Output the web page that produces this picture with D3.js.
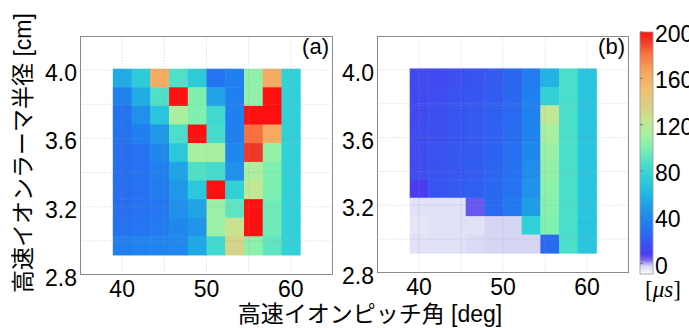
<!DOCTYPE html>
<html>
<head>
<meta charset="utf-8">
<script src="https://cdn.jsdelivr.net/npm/d3@7"></script>
<style>
  body { margin: 0; background: #fff; }
  svg { display: block; }
</style>
</head>
<body>
<div id="chart"></div>
<script>
// cell centres
const pitchCenters = [40, 42.22, 44.44, 46.67, 48.89, 51.11, 53.33, 55.56, 57.78, 60];
const radiusCenters = [3.954, 3.845, 3.736, 3.627, 3.518, 3.408, 3.299, 3.190, 3.081, 2.972]; // top row first

// (a) values [us], rows top -> bottom
const valuesA = [
  [55, 72, 162, 88, 72, 30, 36, 105, 162, 76],
  [36, 56, 88, 200, 100, 52, 36, 105, 200, 76],
  [30, 44, 68, 112, 100, 82, 36, 200, 200, 76],
  [30, 36, 48, 86, 200, 84, 36, 182, 164, 76],
  [28, 30, 40, 70, 112, 112, 40, 192, 106, 76],
  [28, 30, 36, 52, 88, 84, 44, 114, 100, 76],
  [28, 30, 34, 48, 70, 200, 76, 122, 100, 76],
  [28, 30, 32, 44, 52, 108, 92, 200, 96, 76],
  [30, 32, 34, 40, 46, 108, 126, 200, 96, 76],
  [36, 38, 38, 40, 54, 82, 132, 104, 92, 76]
];

// (b) values [us], rows top -> bottom
const valuesB = [
  [14, 14, 16, 18, 20, 24, 34, 58, 86, 68],
  [14, 15, 17, 19, 21, 25, 36, 76, 86, 68],
  [14, 16, 18, 20, 22, 26, 37, 122, 86, 68],
  [15, 16, 18, 20, 22, 27, 38, 112, 86, 68],
  [15, 17, 19, 21, 23, 28, 40, 108, 86, 68],
  [15, 17, 19, 21, 24, 29, 42, 106, 86, 68],
  [8, 18, 20, 22, 25, 30, 45, 104, 86, 68],
  [-4, -4, -4, 5, 26, 33, 50, 102, 86, 68],
  [-5, -4, -4, -4, -2, -2, 76, 100, 86, 68],
  [-4, -4, -4, -3, -2, -2, -2, 26, 86, 68]
];

const xTicks = [40, 50, 60];
const yTicks = [2.8, 3.2, 3.6, 4.0];
const xGrid = [40, 45, 50, 55, 60];
const yGrid = [3.0, 3.2, 3.4, 3.6, 3.8, 4.0];
const cbTicks = [0, 40, 80, 120, 160, 200];
const cbMin = -9, cbMax = 200;

// colour map (jet-like with a white foot)
const colorValues = [-9, -5, -2, 3, 8, 15, 25, 36, 48, 60, 75, 88, 100, 112, 125, 135, 150, 165, 182, 192, 200];
const colorHexes = ['#fbfbff', '#e6e6f8', '#d6d6f4', '#7a6cf0', '#4a3cf0', '#3e4cf0', '#2a68f0', '#2080f0',
  '#2098e8', '#20b8e4', '#30d0d8', '#50e0c8', '#80f0b0', '#a8f0a0', '#c8e490', '#d8d088', '#f0c070',
  '#f8a860', '#f87040', '#f03828', '#ff1010'];

const color = d3.scaleLinear().domain(colorValues).range(colorHexes).interpolate(d3.interpolateRgb).clamp(true);

const W = 689, H = 328;
const numFont = '"Liberation Sans", Arial, sans-serif';
const jpFont = '"Liberation Sans", "Noto Sans CJK JP", sans-serif';

const svg = d3.select('#chart').append('svg')
  .attr('width', W)
  .attr('height', H);

const panels = [
  { label: '(a)', values: valuesA, left: 80, right: 333, bottom: 275, top: 36 },
  { label: '(b)', values: valuesB, left: 377, right: 629, bottom: 273, top: 36 }
];

const dx = Math.abs(pitchCenters[1] - pitchCenters[0]);
const dy = Math.abs(radiusCenters[0] - radiusCenters[1]);

panels.forEach(p => {
  const x = d3.scaleLinear().domain([35, 65]).range([p.left, p.right]);
  const y = d3.scaleLinear().domain([2.8, 4.2]).range([p.bottom, p.top]);

  const g = svg.append('g');

  g.append('rect')
    .attr('x', p.left).attr('y', p.top)
    .attr('width', p.right - p.left).attr('height', p.bottom - p.top)
    .attr('fill', '#fff');

  const cells = [];
  p.values.forEach((row, i) => row.forEach((v, j) => {
    cells.push({ px: pitchCenters[j], r: radiusCenters[i], v: v });
  }));

  g.selectAll('.cell')
    .data(cells)
    .enter().append('rect')
    .attr('class', 'cell')
    .attr('x', d => x(d.px - dx / 2))
    .attr('y', d => y(d.r + dy / 2))
    .attr('width', d => x(d.px + dx / 2) - x(d.px - dx / 2) + 0.5)
    .attr('height', d => y(d.r - dy / 2) - y(d.r + dy / 2) + 0.5)
    .attr('fill', d => color(d.v));

  // grid on top, faint dotted
  g.selectAll('.gx').data(xGrid).enter().append('line')
    .attr('x1', d => x(d)).attr('x2', d => x(d))
    .attr('y1', p.top).attr('y2', p.bottom)
    .attr('stroke', '#999').attr('stroke-opacity', 0.3)
    .attr('stroke-dasharray', '1.5,1.5');
  g.selectAll('.gy').data(yGrid).enter().append('line')
    .attr('y1', d => y(d)).attr('y2', d => y(d))
    .attr('x1', p.left).attr('x2', p.right)
    .attr('stroke', '#999').attr('stroke-opacity', 0.3)
    .attr('stroke-dasharray', '1.5,1.5');

  g.append('rect')
    .attr('x', p.left + 0.5).attr('y', p.top + 0.5)
    .attr('width', p.right - p.left - 1).attr('height', p.bottom - p.top - 1)
    .attr('fill', 'none')
    .attr('stroke', '#8a8a8a');

  g.selectAll('.yt').data(yTicks).enter().append('text')
    .attr('x', p.left - 3)
    .attr('y', d => y(d) + 3)
    .attr('text-anchor', 'end')
    .attr('dominant-baseline', 'central')
    .style('font', `23px ${numFont}`)
    .text(d => d.toFixed(1));

  g.selectAll('.xt').data(xTicks).enter().append('text')
    .attr('x', d => x(d))
    .attr('y', p.bottom + 22)
    .attr('text-anchor', 'middle')
    .style('font', `23px ${numFont}`)
    .text(d => d);

  g.append('text')
    .attr('x', p.right - 4)
    .attr('y', p.top + 18)
    .attr('text-anchor', 'end')
    .style('font', `22px ${numFont}`)
    .text(p.label);
});

// axis titles
svg.append('text')
  .attr('transform', 'translate(23,153) rotate(-90)')
  .attr('text-anchor', 'middle')
  .attr('dominant-baseline', 'central')
  .style('font', `23px ${jpFont}`)
  .text('高速イオンラーマ半径 [cm]');

svg.append('text')
  .attr('x', 370)
  .attr('y', 322)
  .attr('text-anchor', 'middle')
  .style('font', `23px ${jpFont}`)
  .text('高速イオンピッチ角 [deg]');

// colour bar
const cb = { left: 640, width: 13, top: 32, bottom: 274 };
const cbScale = d3.scaleLinear().domain([cbMin, cbMax]).range([cb.bottom, cb.top]);

const grad = svg.append('defs').append('linearGradient')
  .attr('id', 'cbgrad')
  .attr('x1', 0).attr('y1', 1).attr('x2', 0).attr('y2', 0);
grad.selectAll('stop').data(colorValues).enter().append('stop')
  .attr('offset', d => (d - cbMin) / (cbMax - cbMin))
  .attr('stop-color', d => color(d));

svg.append('rect')
  .attr('x', cb.left).attr('y', cb.top)
  .attr('width', cb.width).attr('height', cb.bottom - cb.top)
  .attr('fill', 'url(#cbgrad)')
  .attr('stroke', '#999').attr('stroke-width', 0.8);

svg.selectAll('.cbt').data(cbTicks).enter().append('line')
  .attr('x1', cb.left).attr('x2', cb.left + 3)
  .attr('y1', d => cbScale(d)).attr('y2', d => cbScale(d))
  .attr('stroke', '#666').attr('stroke-width', 0.8);

svg.selectAll('.cbl').data(cbTicks).enter().append('text')
  .attr('x', cb.left + 15)
  .attr('y', d => cbScale(d) + 2)
  .attr('dominant-baseline', 'central')
  .style('font', `23px ${numFont}`)
  .text(d => d);

const unit = svg.append('text')
  .attr('x', 663)
  .attr('y', 297)
  .attr('text-anchor', 'middle')
  .style('font', '23px "Liberation Serif", "DejaVu Serif", serif');
unit.append('tspan').text('[');
unit.append('tspan').attr('font-style', 'italic').text('μs');
unit.append('tspan').text(']');
</script>
</body>
</html>
